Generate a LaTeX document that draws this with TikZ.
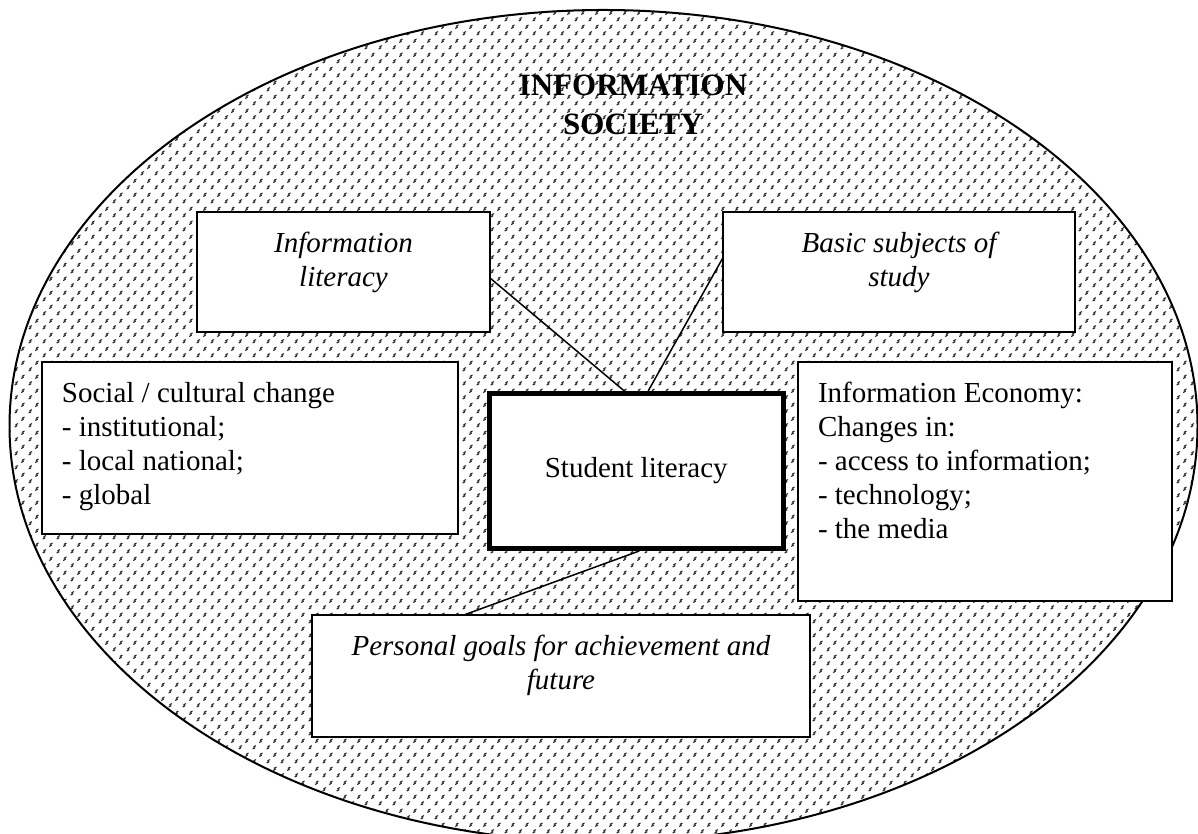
\documentclass[tikz,border=0pt]{standalone}
\usepackage{fontspec}
\setmainfont{Liberation Serif}
\usetikzlibrary{patterns,calc}

% small slanted marks for the society ellipse
\pgfdeclarepatternformonly{confetti}{\pgfpointorigin}{\pgfpoint{7pt}{7pt}}{\pgfpoint{7pt}{7pt}}{%
  \pgfsetlinewidth{0.6pt}%
  \pgfsetroundcap
  \pgfpathmoveto{\pgfpoint{0.5pt}{0.6pt}}\pgfpathlineto{\pgfpoint{1.6pt}{1.2pt}}%
  \pgfpathmoveto{\pgfpoint{0.9pt}{1.7pt}}\pgfpathlineto{\pgfpoint{2.0pt}{2.3pt}}%
  \pgfpathmoveto{\pgfpoint{4.0pt}{4.1pt}}\pgfpathlineto{\pgfpoint{5.1pt}{4.7pt}}%
  \pgfpathmoveto{\pgfpoint{4.4pt}{5.2pt}}\pgfpathlineto{\pgfpoint{5.5pt}{5.8pt}}%
  \pgfusepath{stroke}%
}

\tikzset{
  textbox/.style={draw, fill=white, line width=0.75pt, inner sep=10pt,
    outer sep=0pt, anchor=north west, font=\fontsize{14.5}{17}\selectfont},
  hubbox/.style={draw, fill=white, line width=2.5pt, inner sep=0pt,
    minimum width=146.75pt, minimum height=77.5pt,
    font=\fontsize{14.5}{17}\selectfont},
  heading/.style={anchor=north, align=center, inner sep=0pt,
    font=\bfseries\fontsize{15.5}{19.5}\selectfont},
  link/.style={line width=0.75pt}
}

\begin{document}
\begin{tikzpicture}[x=25pt, y=25pt]
  \useasboundingbox (0,0) rectangle (23.96,16.68);

  % society
  \draw[line width=1pt, pattern=confetti, pattern color=black!85]
    (12.07,8.16) ellipse (11.88 and 8.32);
  \node[heading] (title) at (12.66,15.18) {INFORMATION\\SOCIETY};

  % boxes
  \node[textbox] (info) at (3.94,12.44)
    {\parbox[t][40pt][t]{126.5pt}{\centering\itshape Information\\literacy}};
  \node[textbox] (basic) at (14.46,12.44)
    {\parbox[t][40pt][t]{156pt}{\centering\itshape Basic subjects of\\study}};
  \node[textbox] (social) at (0.84,9.44)
    {\parbox[t][66pt][t]{188pt}{\raggedright Social / cultural change\\
      - institutional;\\- local national;\\- global}};
  \node[textbox] (economy) at (15.96,9.44)
    {\parbox[t][99.5pt][t]{167pt}{\raggedright Information Economy:\\
      Changes in:\\- access to information;\\- technology;\\- the media}};
  \node[textbox] (goals) at (6.24,4.38)
    {\parbox[t][41pt][t]{229pt}{\centering\itshape Personal goals for achievement and\\future}};
  \node[hubbox] (student) at (12.725,7.26) {Student literacy};

  % links
  \draw[link] ($(info.north east)!.55!(info.south east)$)
    -- ($(student.north west)!.46!(student.north east)$);
  \draw[link] ($(basic.north west)!.38!(basic.south west)$)
    -- ($(student.north west)!.54!(student.north east)$);
  \draw[link] ($(student.south west)!.51!(student.south east)$)
    -- ($(goals.north west)!.305!(goals.north east)$);
\end{tikzpicture}
\end{document}
